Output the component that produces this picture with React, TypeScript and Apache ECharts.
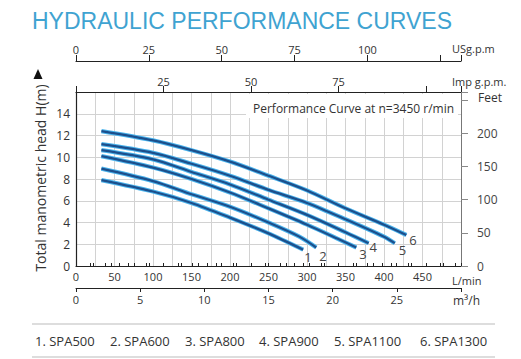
import React, { useEffect, useRef } from "react";
import * as echarts from "echarts";

// ---- data ----
const modelNames = ["SPA500", "SPA600", "SPA800", "SPA900", "SPA1100", "SPA1300"];
const flow1 = [33, 100, 150, 200, 250, 295];
const head1 = [7.9, 6.85, 5.8, 4.45, 3.0, 1.5];
const flow2 = [33, 100, 150, 200, 250, 290, 312];
const head2 = [8.95, 7.8, 6.6, 5.45, 4.0, 2.7, 1.7];
const flow3 = [33, 100, 150, 200, 250, 300, 340, 364];
const head3 = [10.1, 9.05, 8.0, 6.75, 5.3, 3.8, 2.5, 1.7];
const flow4 = [33, 100, 150, 200, 250, 300, 350, 380];
const head4 = [10.65, 9.8, 8.65, 7.5, 6.1, 4.7, 3.1, 2.1];
const flow5 = [33, 100, 150, 200, 250, 300, 350, 400, 414];
const head5 = [11.2, 10.4, 9.4, 8.3, 7.0, 5.8, 4.3, 2.7, 2.1];
const flow6 = [33, 100, 150, 200, 250, 300, 350, 400, 429];
const head6 = [12.4, 11.55, 10.65, 9.6, 8.3, 6.95, 5.3, 3.8, 2.85];

const flows = [flow1, flow2, flow3, flow4, flow5, flow6];
const heads = [head1, head2, head3, head4, head5, head6];

const lminTicks = [0, 50, 100, 150, 200, 250, 300, 350, 400, 450];
const m3hTicks = [0, 5, 10, 15, 20, 25];
const usTicks = [0, 25, 50, 75, 100];
const impTicks = [25, 50, 75];
const headTicks = [0, 2, 4, 6, 8, 10, 12, 14];
const feetTicks = [0, 50, 100, 150, 200];

const L_MAX = 500;
const L_PER_USGPM = 3.78541;
const L_PER_IMPGPM = 4.54609;
const FEET_MAX = 262;

const FONT = "'Open Sans', 'Noto Sans', sans-serif";
const labelEndOffsets = [[-4, 7], [-2, 8], [-2, 6], [-4, 4], [-1, 7], [-2, 5]];
const legendX = [35, 110, 185, 259, 334, 420];

export default function App() {
  const ref = useRef<HTMLDivElement>(null);
  useEffect(() => {
    if (!ref.current) return;
    const chart = echarts.init(ref.current, undefined, { renderer: "svg" });

    const series: any[] = [];
    flows.forEach((f, i) => {
      const data = f.map((x, k) => [x, heads[i][k]]);
      series.push({
        type: "line",
        data,
        smooth: 0.3,
        symbol: "none",
        silent: true,
        lineStyle: { color: "#4ab3ec", width: 4.2 },
        z: 2,
      });
      series.push({
        type: "line",
        data,
        smooth: 0.3,
        symbol: "none",
        silent: true,
        lineStyle: { color: "#1c4f8c", width: 2.2 },
        z: 3,
        endLabel: {
          show: true,
          formatter: String(i + 1),
          distance: 5,
          offset: labelEndOffsets[i],
          color: "#444",
          fontSize: 13,
          fontFamily: FONT,
        },
      });
    });

    const axisText = { color: "#333", fontSize: 11, fontFamily: FONT };

    const option: any = {
      animation: false,
      grid: { left: 76, right: 60, top: 92, bottom: 93, containLabel: false },
      xAxis: [
        {
          type: "value",
          position: "bottom",
          min: 0,
          max: L_MAX,
          interval: 25,
          axisLine: { show: true, onZero: false, lineStyle: { color: "#222", width: 1.2 } },
          axisTick: { show: false },
          splitLine: { show: true, lineStyle: { color: "#d2d2d2", width: 1 } },
          axisLabel: {
            ...axisText,
            margin: 5,
            formatter: (v: number) => (lminTicks.includes(v) ? String(v) : ""),
          },
        },
        {
          type: "value",
          position: "bottom",
          offset: 22,
          min: 0,
          max: (L_MAX * 60) / 1000,
          interval: 5,
          axisLine: { show: true, onZero: false, lineStyle: { color: "#222", width: 1 } },
          axisTick: { show: true, length: 4, lineStyle: { color: "#222" } },
          splitLine: { show: false },
          axisLabel: {
            ...axisText,
            margin: 6,
            formatter: (v: number) => (m3hTicks.includes(v) ? String(v) : ""),
          },
        },
        {
          type: "value",
          position: "top",
          offset: 0,
          min: 0,
          max: L_MAX / L_PER_IMPGPM,
          interval: 25,
          axisLine: { show: true, onZero: false, lineStyle: { color: "#222", width: 1.2 } },
          axisTick: { show: true, length: 6, lineStyle: { color: "#222" } },
          splitLine: { show: false },
          axisLabel: {
            ...axisText,
            margin: 5,
            formatter: (v: number) => (impTicks.includes(v) ? String(v) : ""),
          },
        },
        {
          type: "value",
          position: "top",
          offset: 0,
          min: 0,
          max: L_MAX / L_PER_IMPGPM,
          interval: 5,
          axisLine: { show: false },
          axisTick: { show: true, length: 3, lineStyle: { color: "#222" } },
          splitLine: { show: false },
          axisLabel: { show: false },
        },
        {
          type: "value",
          position: "top",
          offset: 31,
          min: 0,
          max: L_MAX / L_PER_USGPM,
          interval: 25,
          axisLine: { show: true, onZero: false, lineStyle: { color: "#222", width: 1.2 } },
          axisTick: { show: true, length: 6, lineStyle: { color: "#222" } },
          splitLine: { show: false },
          axisLabel: {
            ...axisText,
            margin: 6,
            formatter: (v: number) => (usTicks.includes(v) ? String(v) : ""),
          },
        },
        {
          type: "value",
          position: "top",
          offset: 31,
          min: 0,
          max: L_MAX / L_PER_USGPM,
          interval: 5,
          axisLine: { show: false },
          axisTick: { show: true, length: 3, lineStyle: { color: "#222" } },
          splitLine: { show: false },
          axisLabel: { show: false },
        },
      ],
      yAxis: [
        {
          type: "value",
          position: "left",
          min: 0,
          max: 16,
          interval: 2,
          axisLine: { show: true, onZero: false, lineStyle: { color: "#222", width: 1.2 } },
          axisTick: { show: false },
          splitLine: { show: true, lineStyle: { color: "#d2d2d2", width: 1 } },
          axisLabel: {
            ...axisText,
            fontSize: 12,
            margin: 6,
            formatter: (v: number) => (headTicks.includes(v) ? String(v) : ""),
          },
        },
        {
          type: "value",
          position: "right",
          min: 0,
          max: FEET_MAX,
          interval: 50,
          axisLine: { show: true, onZero: false, lineStyle: { color: "#777", width: 1 } },
          axisTick: { show: true, length: 7, lineStyle: { color: "#888" } },
          splitLine: { show: false },
          axisLabel: {
            ...axisText,
            fontSize: 12,
            lineHeight: 11,
            color: "#444",
            margin: 16,
            formatter: (v: number) => (feetTicks.includes(v) ? String(v) : ""),
          },
        },
      ],
      series,
      graphic: [
        {
          type: "text",
          left: 32,
          top: 9,
          style: {
            text: "HYDRAULIC PERFORMANCE CURVES",
            fill: "#3fa3d1",
            fontSize: 23,
            fontFamily: "'Liberation Sans', Arial, sans-serif",
          },
        },
        {
          type: "polygon",
          shape: { points: [[38, 69], [33.5, 79], [42.5, 79]] },
          style: { fill: "#111" },
        },
        {
          type: "text",
          x: 40,
          y: 178,
          rotation: Math.PI / 2,
          style: {
            text: "Total manometric head H(m)",
            fill: "#333",
            fontSize: 14,
            fontFamily: FONT,
            align: "center",
            verticalAlign: "middle",
          },
        },
        {
          type: "rect",
          shape: { x: 246, y: 94, width: 212, height: 24 },
          style: { fill: "#fff" },
          z: 5,
        },
        {
          type: "text",
          x: 253,
          y: 108,
          z: 6,
          style: {
            text: "Performance Curve at n=3450 r/min",
            fill: "#333",
            fontSize: 12,
            fontFamily: FONT,
            verticalAlign: "middle",
          },
        },
        { type: "text", x: 452, y: 48, style: { text: "USg.p.m", fill: "#333", fontSize: 11, fontFamily: FONT, verticalAlign: "middle" } },
        { type: "text", x: 452, y: 81, style: { text: "Imp g.p.m.", fill: "#333", fontSize: 11, fontFamily: FONT, verticalAlign: "middle" } },
        { type: "text", x: 478, y: 97, style: { text: "Feet", fill: "#333", fontSize: 12, fontFamily: FONT, verticalAlign: "middle" } },
        { type: "text", x: 452, y: 280, style: { text: "L/min", fill: "#333", fontSize: 11, lineHeight: 11, fontFamily: FONT, verticalAlign: "middle" } },
        { type: "text", x: 453, y: 300, style: { text: "m³/h", fill: "#333", fontSize: 12, fontFamily: FONT, verticalAlign: "middle" } },
        {
          type: "line",
          shape: { x1: 32, y1: 324, x2: 495, y2: 324 },
          style: { stroke: "#bbb", lineWidth: 1 },
        },
        {
          type: "line",
          shape: { x1: 32, y1: 357, x2: 495, y2: 357 },
          style: { stroke: "#bbb", lineWidth: 1 },
        },
        ...modelNames.map((name, i) => ({
          type: "text",
          x: legendX[i],
          y: 341,
          style: {
            text: `${i + 1}. ${name}`,
            fill: "#333",
            fontSize: 13,
            fontFamily: FONT,
            verticalAlign: "middle",
          },
        })),
      ],
    };

    chart.setOption(option);
    return () => chart.dispose();
  }, []);

  return (
    <div
      ref={ref}
      style={{ position: "fixed", left: 0, top: 0, width: 521, height: 359, background: "#fff" }}
    />
  );
}
